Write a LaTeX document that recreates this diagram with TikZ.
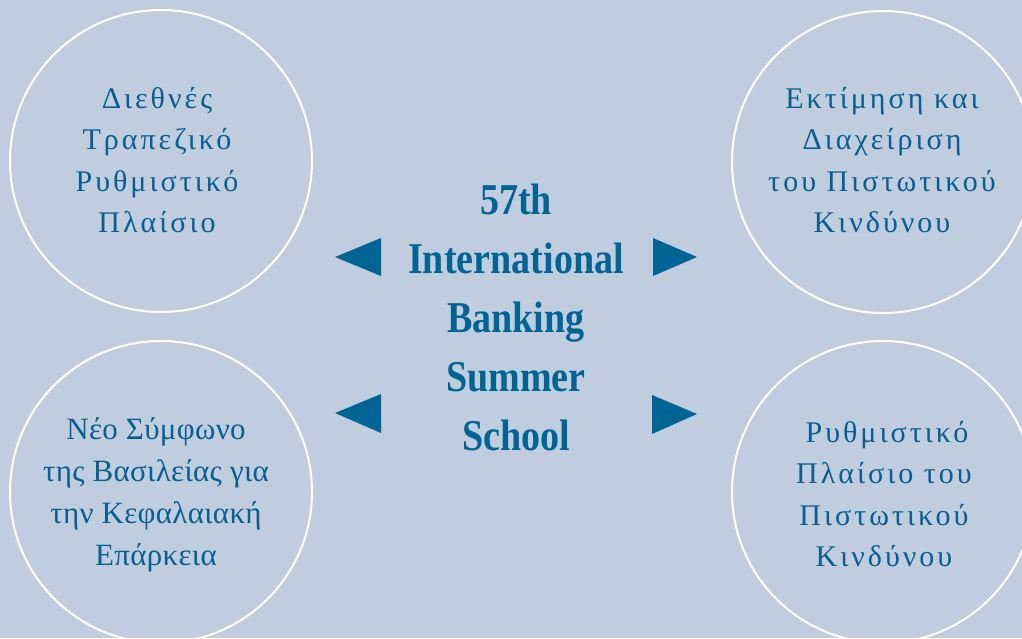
\documentclass[tikz,border=0pt]{standalone}
\usepackage{fontspec}
\setmainfont{Liberation Serif}
\newfontfamily\grsp[LetterSpace=10]{Liberation Serif}
\newfontfamily\grpl[LetterSpace=1]{Liberation Serif}
\definecolor{bgc}{HTML}{C0CDDE}
\definecolor{txc}{HTML}{085F91}
\definecolor{trc}{HTML}{006495}
\tikzset{
  ring/.style={circle, draw=white, line width=2pt, minimum size=302pt, inner sep=0pt},
  sptext/.style={text=txc, align=center, inner sep=0pt, font={\grsp\fontsize{30}{41.5}\selectfont}},
  pltext/.style={text=txc, align=center, inner sep=0pt, font={\grpl\fontsize{31}{42}\selectfont}},
  title/.style={text=trc, align=center, inner sep=0pt, xscale=0.865, transform shape, font={\bfseries\fontsize{44}{59}\selectfont}},
  tri/.style={fill=trc}
}
\begin{document}
\begin{tikzpicture}[x=1pt,y=-1pt]
\useasboundingbox (0,0) rectangle (1022,638);
\clip (0,0) rectangle (1022,638);
\fill[bgc] (0,0) rectangle (1022,638);
\node[ring] (c1) at (161,161) {};
\node[ring] (c2) at (883,162) {};
\node[ring] (c3) at (161,492) {};
\node[ring] (c4) at (883,492) {};
\node[sptext] (t1) at (157,160) {Διεθνές\\Τραπεζικό\\Ρυθμιστικό\\Πλαίσιο};
\node[sptext] (t2) at (882,160) {Εκτίμηση και\\Διαχείριση\\του Πιστωτικού\\Κινδύνου};
\node[pltext] (t3) at (156,495) {Νέο Σύμφωνο\\της Βασιλείας για\\την Κεφαλαιακή\\Επάρκεια};
\node[sptext] (t4) at (884,494) {\hspace{6pt}Ρυθμιστικό\\Πλαίσιο του\\Πιστωτικού\\Κινδύνου};
\node[title] (ct) at (516,317) {57th\\International\\Banking\\Summer\\School};
\fill[tri] (335,257) -- (381,238) -- (381,276) -- cycle;
\fill[tri] (697,257) -- (653,238) -- (653,276) -- cycle;
\fill[tri] (335,413) -- (381,394) -- (381,433) -- cycle;
\fill[tri] (697,414) -- (652,395) -- (652,434) -- cycle;
\end{tikzpicture}
\end{document}
